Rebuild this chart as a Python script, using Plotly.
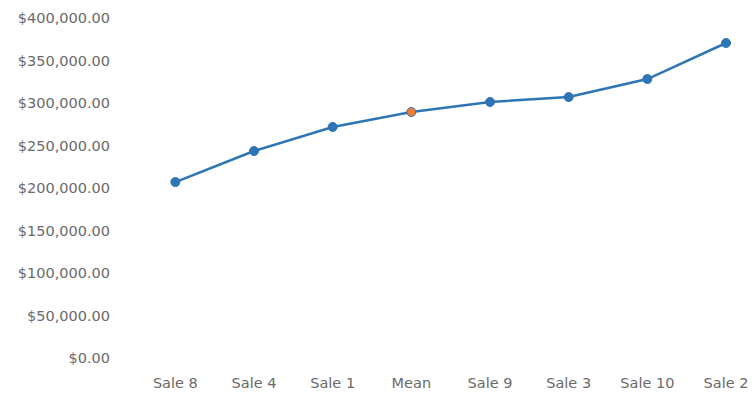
import plotly.graph_objects as go

categories = ["Sale 8", "Sale 4", "Sale 1", "Mean", "Sale 9", "Sale 3", "Sale 10", "Sale 2"]
values = [207000, 243500, 271800, 289400, 301200, 307000, 328200, 370600]
marker_colors = ["#2E75B6", "#2E75B6", "#2E75B6", "#ED7D31", "#2E75B6", "#2E75B6", "#2E75B6", "#2E75B6"]
y_ticks = [0, 50000, 100000, 150000, 200000, 250000, 300000, 350000, 400000]
y_tick_labels = ["$%s" % format(v, ",.2f") for v in y_ticks]

fig = go.Figure()
fig.add_trace(go.Scatter(
    x=list(range(len(categories))), y=values, mode="lines+markers",
    line=dict(color="#2E75B6", width=2.5),
    marker=dict(size=9, color=marker_colors, line=dict(color="#2E75B6", width=1)),
    showlegend=False,
))

font = dict(family="DejaVu Sans, sans-serif", size=14.5, color="#6a6a6a")
fig.update_layout(
    width=752, height=398,
    margin=dict(l=136, r=0, t=18, b=40),
    paper_bgcolor="white", plot_bgcolor="white",
    font=font,
    xaxis=dict(
        tickmode="array", tickvals=list(range(len(categories))), ticktext=categories,
        range=[-0.5, 7.33], showgrid=False, zeroline=False, showline=False,
        ticks="", ticklabelstandoff=14, tickfont=font,
    ),
    yaxis=dict(
        tickmode="array", tickvals=y_ticks, ticktext=y_tick_labels,
        range=[0, 400000], showgrid=False, zeroline=False, showline=False,
        ticks="", ticklabelstandoff=25, tickfont=font,
    ),
)
fig.write_html("out.html")
